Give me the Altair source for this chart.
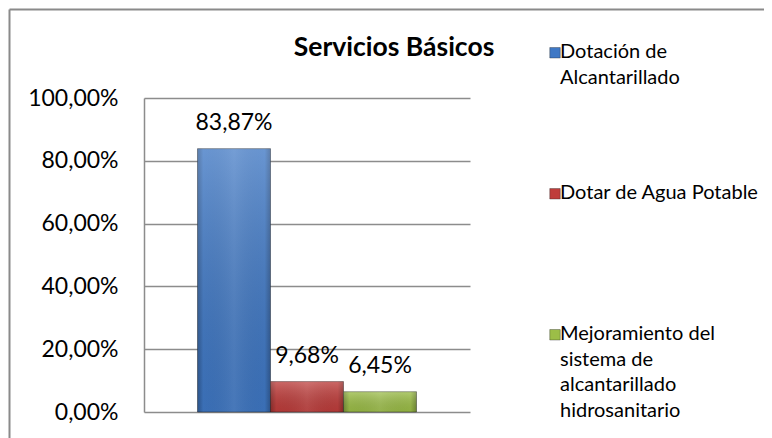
import altair as alt
import pandas as pd

# ---------------- data ----------------
series = [
    "Dotación de Alcantarillado",
    "Dotar de Agua Potable",
    "Mejoramiento del sistema de alcantarillado hidrosanitario",
]
values = [0.8387, 0.0968, 0.0645]
legend_lines = [
    ["Dotación de", "Alcantarillado"],
    ["Dotar de Agua Potable"],
    ["Mejoramiento del", "sistema de", "alcantarillado", "hidrosanitario"],
]
y_ticks = [0, 0.2, 0.4, 0.6, 0.8, 1.0]
title_text = "Servicios Básicos"

# ---------------- styles ----------------
fills = ["#3F78C5", "#BF3D3B", "#9CBE47"]
FONT = "Lato"
W, H = 754, 440
PLOT_X = [135, 461]
PLOT_Y = [403, 89]
LEG_Y = [49, 331]
BORDER = "#8a8a8a"

df = pd.DataFrame(
    {"serie": series, "valor": values, "leg": ["\n".join(l) for l in legend_lines]}
)

pct_expr = "replace(format(datum.value, '.2%'), '.', ',')"
color_scale = alt.Scale(domain=series, range=fills)
x_enc = alt.X(
    "serie:N",
    sort=series,
    axis=None,
    scale=alt.Scale(range=PLOT_X, paddingInner=0, paddingOuter=0.733),
)
y_scale = alt.Scale(domain=[0, 1], range=PLOT_Y)

base = alt.Chart(df)

bars = base.mark_bar(stroke="#222222", strokeWidth=0.8, strokeOpacity=0.55).encode(
    x=x_enc,
    y=alt.Y(
        "valor:Q",
        scale=y_scale,
        axis=alt.Axis(
            values=y_ticks,
            labelExpr=pct_expr,
            title=None,
            offset=-PLOT_X[0],
            ticks=False,
            labelPadding=26,
            labelFont=FONT,
            labelFontSize=23,
            labelColor="#000000",
            grid=True,
            gridColor="#8c8c8c",
            gridWidth=1.5,
            domainColor="#8c8c8c",
            domainWidth=1.5,
        ),
    ),
    color=alt.Color("serie:N", scale=color_scale, sort=series, legend=None),
)

edge_shade = base.mark_bar(
    fill=alt.LinearGradient(
        gradient="linear",
        x1=0, y1=0, x2=1, y2=0,
        stops=[
            alt.GradientStop(offset=0, color="rgba(0,0,0,0.25)"),
            alt.GradientStop(offset=0.08, color="rgba(0,0,0,0)"),
            alt.GradientStop(offset=0.5, color="rgba(255,255,255,0.08)"),
            alt.GradientStop(offset=0.92, color="rgba(0,0,0,0)"),
            alt.GradientStop(offset=1, color="rgba(0,0,0,0.25)"),
        ],
    )
).encode(x=x_enc, y=alt.Y("valor:Q", scale=y_scale))

top_shade = base.mark_bar(
    fill=alt.LinearGradient(
        gradient="linear",
        x1=0, y1=0, x2=0, y2=1,
        stops=[
            alt.GradientStop(offset=0, color="rgba(255,255,255,0.22)"),
            alt.GradientStop(offset=1, color="rgba(0,0,0,0.08)"),
        ],
    )
).encode(x=x_enc, y=alt.Y("valor:Q", scale=y_scale))

labels = base.transform_calculate(
    txt="replace(format(datum.valor, '.2%'), '.', ',')"
).mark_text(font=FONT, fontSize=23, color="#000000", baseline="middle", dy=-26).encode(
    x=x_enc,
    y=alt.Y("valor:Q", scale=y_scale),
    text="txt:N",
)

leg_y = alt.Y(
    "serie:N",
    sort=series,
    axis=None,
    scale=alt.Scale(type="point", domain=series, range=LEG_Y, padding=0),
)

leg_squares = base.mark_point(
    shape="M-1,-2H1V0H-1Z",
    filled=True,
    size=110,
    opacity=1,
    stroke="#222222",
    strokeWidth=0.6,
    strokeOpacity=0.6,
).encode(
    x=alt.value(546),
    y=leg_y,
    color=alt.Color("serie:N", scale=color_scale, sort=series, legend=None),
)

leg_text = base.mark_text(
    font=FONT,
    fontSize=20,
    color="#000000",
    align="left",
    baseline="alphabetic",
    lineBreak="\n",
    lineHeight=25.7,
).encode(x=alt.value(551), y=leg_y, text="leg:N")

# chart-area frame (left and top edges; right/bottom fall outside the crop)
frame = base.mark_point(opacity=0).encode(
    x=alt.X(
        "valor:Q",
        scale=alt.Scale(domain=[0, 1], range=[0, W + 30]),
        axis=alt.Axis(orient="top", labels=False, ticks=False, grid=False, title=None,
                      domainColor=BORDER, domainWidth=2, offset=0),
    ),
    y=alt.Y(
        "valor:Q",
        scale=alt.Scale(domain=[0, 1], range=[0, H + 30]),
        axis=alt.Axis(orient="left", labels=False, ticks=False, grid=False, title=None,
                      domainColor=BORDER, domainWidth=2, offset=0),
    ),
)

plot = alt.layer(bars, edge_shade, top_shade, labels)
legend = alt.layer(leg_squares, leg_text)

chart = (
    alt.layer(plot, legend, frame)
    .resolve_scale(x="independent", y="independent")
    .properties(
        width=W,
        height=H,
        title=alt.TitleParams(
            title_text,
            font=FONT,
            fontSize=26.5,
            fontWeight="bold",
            color="#000000",
            anchor="middle",
            frame="group",
            baseline="middle",
            offset=0,
            dx=8,
            dy=65,
        ),
        autosize=alt.AutoSizeParams(type="none"),
        padding={"left": 1, "top": 1, "right": 1, "bottom": 1},
    )
    .configure_view(stroke=None)
)

chart.save("out.html", embed_options={"renderer": "svg", "actions": False})
